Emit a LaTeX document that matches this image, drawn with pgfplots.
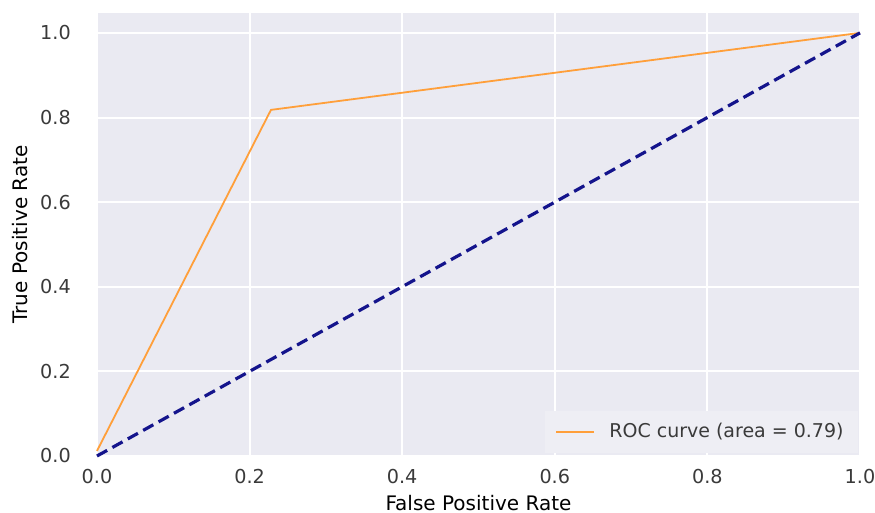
\documentclass[border=0pt]{standalone}
\usepackage{pgfplots}
\pgfplotsset{compat=1.18}
\usepackage{fontspec}
\setmainfont{DejaVu Sans}
\definecolor{bgc}{HTML}{EAEAF2}
\definecolor{txt}{HTML}{3A3A3A}
\definecolor{roc}{HTML}{FF9F3A}
\definecolor{navyc}{HTML}{14148C}
\definecolor{legbg}{HTML}{EEEEF4}
\begin{document}
\begin{tikzpicture}
\begin{axis}[
  scale only axis,
  width=381.5pt, height=221.5pt,
  xmin=0, xmax=1, ymin=0, ymax=1.047,
  xtick={0,0.2,...,1.0}, ytick={0,0.2,...,1.0},
  /pgf/number format/assume math mode=true,
  /pgf/number format/fixed,
  /pgf/number format/fixed zerofill,
  /pgf/number format/precision=1,
  ticklabel style={font=\fontsize{9.6}{11}\selectfont, text=txt},
  xticklabel style={yshift=-3.3pt},
  yticklabel style={xshift=-9.6pt},
  axis background/.style={fill=bgc},
  axis line style={draw=none},
  major tick length=0pt,
  grid=major,
  major grid style={white, line width=1pt},
  xlabel={False Positive Rate}, ylabel={True Positive Rate},
  label style={font=\fontsize{10.3}{12}\selectfont, text=txt},
  every axis x label/.style={at={(axis description cs:0.5,-0.1061)}, anchor=center},
  every axis y label/.style={at={(axis description cs:-0.1009,0.5)}, anchor=center, rotate=90},
  legend style={draw=legbg, fill=legbg, font=\fontsize{9.5}{11}\selectfont, text=txt, inner xsep=5pt, inner ysep=4pt, at={(rel axis cs:1,0)}, anchor=south east, xshift=-1pt, yshift=1.5pt},
  legend image code/.code={\draw[#1] (0pt,0pt) -- (19pt,0pt); \path (24pt,0pt);},
  legend cell align=left,
  clip=false,
]
\addplot[roc, line width=0.9pt] coordinates {(0,0.012) (0.228,0.818) (1,1)};
\addlegendentry{ROC curve (area = 0.79)}
\addplot[navyc, line width=1.6pt, dash pattern=on 5.8pt off 3pt, forget plot] coordinates {(0,0) (1,1)};
\end{axis}
\pgfresetboundingbox
\path[use as bounding box] (-48.5pt,-28.5pt) rectangle (389pt,228pt);
\end{tikzpicture}
\end{document}
